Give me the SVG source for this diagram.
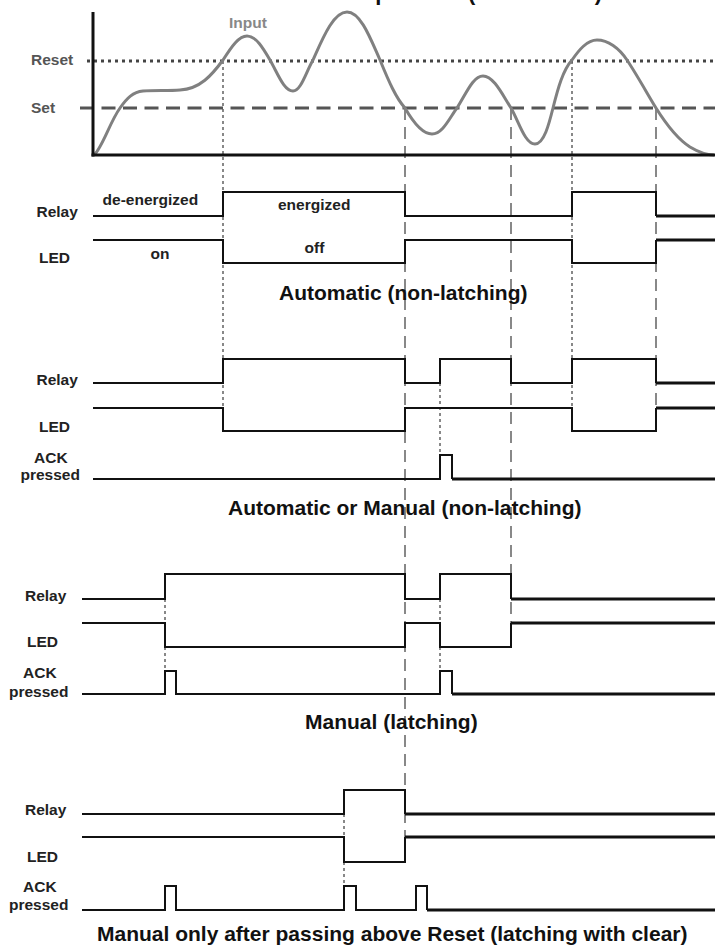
<svg xmlns="http://www.w3.org/2000/svg" width="715" height="948" viewBox="0 0 715 948">
<style>
  text { font-family: "Liberation Sans", Arial, sans-serif; font-weight: bold; }
  .lbl { font-size: 15.5px; fill: #222; }
  .ttl { font-size: 21px; fill: #111; }
  .sig { fill: none; stroke: #111; stroke-width: 2; }
  .end { fill: none; stroke: #111; stroke-width: 3; }
  .dash { stroke: #888; stroke-width: 2; stroke-dasharray: 12 7; }
  .dot { stroke: #888; stroke-width: 2; stroke-dasharray: 3 3; }
</style>
<rect width="715" height="948" fill="#fff"/>
<text id="title" class="ttl" x="602" y="0" text-anchor="end" style="font-size:22px">Low Alarm Fail-Safe Operation (Set &lt; Reset)</text>

<g id="guides">
  <line class="dot" x1="223" y1="61" x2="223" y2="408"/>
  <line class="dot" x1="572" y1="61" x2="572" y2="408"/>
  <line class="dash" x1="405" y1="108" x2="405" y2="837"/>
  <line class="dash" x1="511" y1="108" x2="511" y2="623"/>
  <line class="dash" x1="656" y1="108" x2="656" y2="408"/>
  <line class="dot" x1="440" y1="383" x2="440" y2="455"/>
  <line class="dot" x1="165" y1="599" x2="165" y2="671"/>
  <line class="dot" x1="440" y1="599" x2="440" y2="671"/>
  <line class="dot" x1="344" y1="814" x2="344" y2="886"/>
</g>

<g id="input-chart">
  <line x1="87" y1="61" x2="715" y2="61" stroke="#444" stroke-width="3" stroke-dasharray="3 4"/>
  <line x1="80" y1="108" x2="715" y2="108" stroke="#555" stroke-width="3" stroke-dasharray="14 7.5"/>
  <path d="M94,155 C102,148 110,122 120,108 C127,98 133,92 143,91 C155,90 168,91 180,90 C200,89 212,75 223,60 C232,46 239,36 247,36 C256,36 263,48 270,60 C278,74 284,91 293,91 C301,91 306,72 313,60 C322,40 333,12 347,12 C361,12 371,40 380,60 C389,82 396,98 405,108 C413,122 422,134 432,134 C443,134 450,117 457,108 C466,94 473,76 483,76 C494,76 503,96 511,108 C519,122 525,144 535,144 C544,144 549,124 553,108 C558,88 563,70 572,60 C579,50 587,40 597,40 C608,40 619,48 627,60 C637,75 648,95 656,108 C666,124 676,138 690,147 C700,153 708,155 714,155" fill="none" stroke="#808080" stroke-width="3"/>
  <line x1="93" y1="12" x2="93" y2="156.5" stroke="#111" stroke-width="3"/>
  <line x1="91.5" y1="155" x2="715" y2="155" stroke="#111" stroke-width="3"/>
  <text class="lbl" x="31" y="65" style="fill:#555">Reset</text>
  <text class="lbl" x="31" y="113" style="fill:#555">Set</text>
  <text class="lbl" x="229" y="28" style="fill:#888">Input</text>
</g>

<g id="automatic">
  <polyline class="sig" points="93,216 223,216 223,192 405,192 405,216 572,216 572,192 656,192 656,216"/>
  <line class="end" x1="656" y1="216" x2="715" y2="216"/>
  <polyline class="sig" points="93,240 223,240 223,263 405,263 405,240 572,240 572,263 656,263 656,240"/>
  <line class="end" x1="656" y1="240" x2="715" y2="240"/>
  <text class="lbl" x="36.5" y="217">Relay</text>
  <text class="lbl" x="39" y="263">LED</text>
  <text class="lbl" x="102.6" y="205">de-energized</text>
  <text class="lbl" x="278" y="210">energized</text>
  <text class="lbl" x="150.5" y="259">on</text>
  <text class="lbl" x="304.6" y="253">off</text>
  <text class="ttl" x="279" y="300">Automatic (non-latching)</text>
</g>

<g id="auto-or-manual">
  <polyline class="sig" points="93,383 223,383 223,359 405,359 405,383 440,383 440,359 511,359 511,383 572,383 572,359 656,359 656,383"/>
  <line class="end" x1="656" y1="383" x2="715" y2="383"/>
  <polyline class="sig" points="93,408 223,408 223,431 405,431 405,408 572,408 572,431 656,431 656,408"/>
  <line class="end" x1="656" y1="408" x2="715" y2="408"/>
  <polyline class="sig" points="93,479 440,479 440,455 452,455 452,479"/>
  <line class="end" x1="452" y1="479" x2="715" y2="479"/>
  <text class="lbl" x="36.5" y="385">Relay</text>
  <text class="lbl" x="39" y="432">LED</text>
  <text class="lbl" x="34" y="463">ACK</text>
  <text class="lbl" x="20.5" y="480">pressed</text>
  <text class="ttl" x="228" y="515">Automatic or Manual (non-latching)</text>
</g>

<g id="manual">
  <polyline class="sig" points="82,599 165,599 165,574 405,574 405,599 440,599 440,574 511,574 511,599"/>
  <line class="end" x1="511" y1="599" x2="715" y2="599"/>
  <polyline class="sig" points="82,623 165,623 165,647 405,647 405,623 440,623 440,647 511,647 511,623"/>
  <line class="end" x1="511" y1="623" x2="715" y2="623"/>
  <polyline class="sig" points="82,694 165,694 165,671 176,671 176,694 440,694 440,671 452,671 452,694"/>
  <line class="end" x1="452" y1="694" x2="715" y2="694"/>
  <text class="lbl" x="25" y="601">Relay</text>
  <text class="lbl" x="27" y="647">LED</text>
  <text class="lbl" x="23" y="678">ACK</text>
  <text class="lbl" x="9" y="697">pressed</text>
  <text class="ttl" x="305" y="729">Manual (latching)</text>
</g>

<g id="manual-clear">
  <polyline class="sig" points="82,814 344,814 344,790 405,790 405,814"/>
  <line class="end" x1="405" y1="814" x2="715" y2="814"/>
  <polyline class="sig" points="82,837 344,837 344,862 405,862 405,837"/>
  <line class="end" x1="405" y1="837" x2="715" y2="837"/>
  <polyline class="sig" points="82,910 165,910 165,886 176,886 176,910 344,910 344,886 356,886 356,910 416,910 416,886 427,886 427,910"/>
  <line class="end" x1="427" y1="910" x2="715" y2="910"/>
  <text class="lbl" x="25" y="815">Relay</text>
  <text class="lbl" x="27" y="862">LED</text>
  <text class="lbl" x="23" y="892">ACK</text>
  <text class="lbl" x="9" y="910">pressed</text>
  <text class="ttl" x="97" y="941">Manual only after passing above Reset (latching with clear)</text>
</g>
</svg>
